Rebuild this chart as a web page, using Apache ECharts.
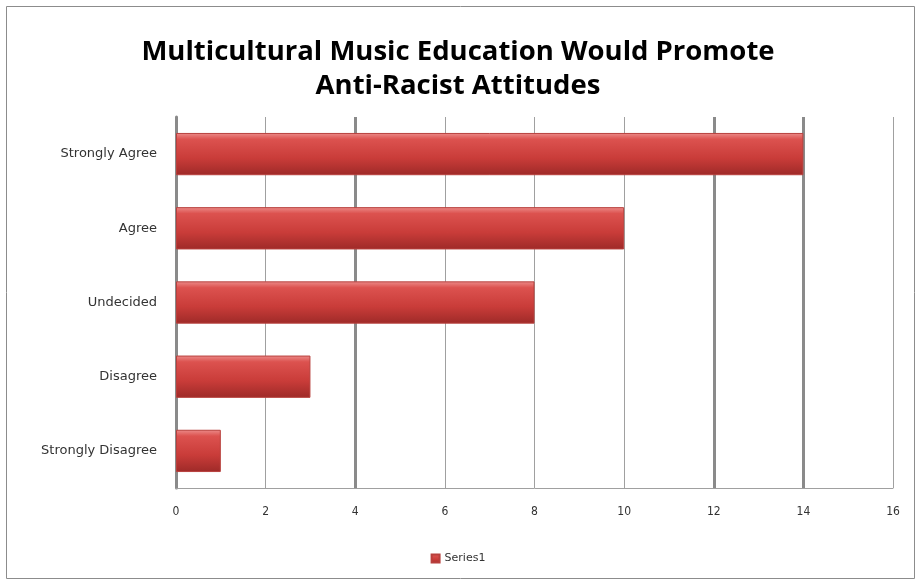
<!DOCTYPE html>
<html>
<head>
<meta charset="UTF-8">
<title>Multicultural Music Education</title>
<script src="https://cdn.jsdelivr.net/npm/echarts@6/dist/echarts.min.js"></script>
<style>
  *{margin:0;padding:0;}
  body{background:#fff;}
  #main{width:916px;height:580px;}
</style>
</head>
<body>
<div id="main"></div>
<script>
// data
var categories = ['Strongly Disagree', 'Disagree', 'Undecided', 'Agree', 'Strongly Agree'];
var series1 = [1, 3, 8, 10, 14];
var xTicks = [0, 2, 4, 6, 8, 10, 12, 14, 16];
var heavyLines = [4, 12, 14];

var chart = echarts.init(document.getElementById('main'));

var barColor = new echarts.graphic.LinearGradient(0, 0, 0, 1, [
  {offset: 0, color: '#ec8c8a'},
  {offset: 0.15, color: '#dc524f'},
  {offset: 0.6, color: '#c93c39'},
  {offset: 1, color: '#9e2a28'}
]);

var option = {
  animation: false,
  title: {
    text: 'Multicultural Music Education Would Promote\nAnti-Racist Attitudes',
    left: 'center',
    top: 30,
    textStyle: {
      fontFamily: 'Open Sans',
      fontWeight: 'bold',
      fontSize: 27.5,
      lineHeight: 34,
      color: '#000'
    }
  },
  graphic: [{
    type: 'rect',
    shape: {x: 6.5, y: 6.5, width: 908, height: 572},
    style: {fill: 'none', stroke: '#8c8c8c', lineWidth: 1},
    silent: true
  }],
  legend: {
    bottom: 11,
    left: 'center',
    itemWidth: 8,
    itemHeight: 8,
    icon: 'rect',
    textStyle: {fontFamily: 'DejaVu Sans', fontSize: 11, color: '#333'},
    data: ['Series1']
  },
  grid: {left: 176, right: 23, top: 117, bottom: 92},
  xAxis: {
    type: 'value',
    min: 0,
    max: 16,
    interval: 2,
    axisLine: {show: true, lineStyle: {color: '#a0a0a0', width: 1}},
    axisTick: {show: false},
    axisLabel: {
      margin: 18,
      fontFamily: 'DejaVu Sans Condensed',
      fontSize: 12,
      color: '#333',
      formatter: function (v) { return xTicks.indexOf(v) >= 0 ? String(v) : ''; }
    },
    splitLine: {show: true, lineStyle: {color: '#a0a0a0', width: 1}}
  },
  yAxis: {
    type: 'category',
    data: categories,
    axisLine: {show: true, lineStyle: {color: '#8a8a8a', width: 3}},
    axisTick: {show: false},
    axisLabel: {
      margin: 19,
      fontFamily: 'DejaVu Sans',
      fontSize: 13,
      color: '#333'
    },
    splitLine: {show: false}
  },
  series: [{
    // heavier gridlines, drawn under the bars
    name: 'grid',
    type: 'bar',
    data: [],
    z: 1,
    markLine: {
      silent: true,
      symbol: 'none',
      label: {show: false},
      lineStyle: {color: '#8a8a8a', width: 3, type: 'solid'},
      data: heavyLines.map(function (v) { return {xAxis: v}; })
    }
  }, {
    name: 'Series1',
    type: 'bar',
    data: series1,
    barGap: '-100%',
    barCategoryGap: '43%',
    itemStyle: {color: barColor, borderColor: '#b8403d', borderWidth: 1},
    z: 5
  }]
};

chart.setOption(option);
</script>
</body>
</html>
